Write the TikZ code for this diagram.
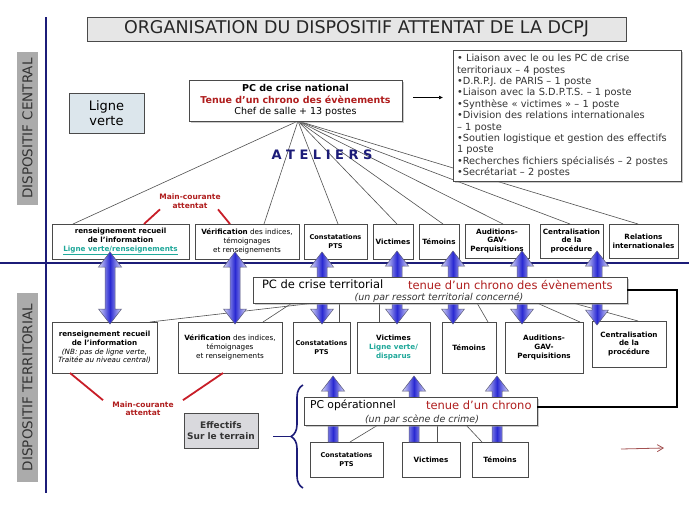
\documentclass[tikz,border=0pt]{standalone}
\usepackage{fontspec}
\setmainfont{DejaVu Sans}
\usetikzlibrary{arrows.meta,decorations.pathreplacing,shadows,backgrounds}
\definecolor{navy}{HTML}{1C1C78}
\definecolor{boxline}{HTML}{4A4A4A}
\definecolor{linegray}{HTML}{505050}
\definecolor{darkred}{HTML}{B01E1E}
\definecolor{redl}{HTML}{C81E28}
\definecolor{tealc}{HTML}{1FA89A}
\definecolor{sidegray}{HTML}{ABABAB}
\definecolor{txtgray}{HTML}{333333}
\definecolor{titlefill}{HTML}{E6E6E6}
\definecolor{lvfill}{HTML}{DCE6EC}
\definecolor{effill}{HTML}{D9D9DD}
\definecolor{arrowlight}{HTML}{D8D8F8}
\definecolor{arrowdark}{HTML}{2A2AD2}
\definecolor{arrowedge}{HTML}{5A5A7A}
\definecolor{brownred}{HTML}{A35252}
\newcommand{\bx}{\fontsize{7.2}{8.8}\selectfont}
\newcommand{\bxs}{\fontsize{6.6}{8.8}\selectfont}
\newcommand{\bigdbl}[3]{\path[bigarrow] (#1,#2) -- ++(11.5,15) -- ++(-6.5,0) -- ({#1+5},{#3-15}) -- ++(6.5,0) -- (#1,#3) -- ++(-11.5,-15) -- ++(6.5,0) -- ({#1-5},{#2+15}) -- ++(-6.5,0) -- cycle;}
\newcommand{\bigup}[3]{\path[bigarrow] (#1,#2) -- ++(11.5,15) -- ++(-6.5,0) -- ({#1+5},#3) -- ({#1-5},#3) -- ({#1-5},{#2+15}) -- ++(-6.5,0) -- cycle;}
\tikzset{
  box/.style={draw=boxline, fill=white, line width=0.8pt, align=center, inner sep=1pt, outer sep=0pt, font=\bx\bfseries},
  shadowed/.style={drop shadow={shadow xshift=1.5pt,shadow yshift=-1.5pt,fill=black!40,opacity=0.5}},
  conn/.style={draw=linegray, line width=0.6pt},
  redline/.style={draw=redl, line width=1.8pt},
  navyline/.style={draw=navy, line width=2.2pt},
  sidebox/.style={fill=sidegray, draw=none, text=txtgray, inner sep=0pt, outer sep=0pt, font=\fontsize{13.5}{14}\selectfont},
  mc/.style={text=darkred, align=center, inner sep=1pt, font=\fontsize{7.5}{8.5}\selectfont\bfseries},
  bigarrow/.style={draw=arrowedge, line width=0.5pt, left color=arrowlight, right color=arrowlight, middle color=arrowdark},
  plain/.style={inner sep=0pt, outer sep=0pt}
}
\begin{document}
\begin{tikzpicture}[x=1pt, y=-1pt]
\useasboundingbox (0,0) rectangle (689,517);

% title and side labels
\node[draw=boxline, fill=titlefill, line width=0.8pt, minimum width=539, minimum height=24, inner sep=0pt, text=black!85, font=\fontsize{17.5}{19}\selectfont] (title) at (356.5,29) {ORGANISATION DU DISPOSITIF ATTENTAT DE LA DCPJ};
\node[sidebox, rotate=90, minimum width=153, minimum height=21] (sc) at (27.5,128.5) {DISPOSITIF CENTRAL};
\node[sidebox, rotate=90, minimum width=189, minimum height=21] (st) at (27.5,387.5) {DISPOSITIF TERRITORIAL};

\coordinate (vtop) at (46,17);
\coordinate (vbot) at (46,493);
\coordinate (hl) at (0,263);
\coordinate (hr) at (689,263);
\draw[navyline] (vtop) -- (vbot);
\draw[navyline] (hl) -- (hr);

% central level
\node[draw=boxline, fill=lvfill, line width=0.8pt, minimum width=75, minimum height=40, align=center, inner sep=0pt, font=\fontsize{13}{14.5}\selectfont] (lv) at (106.5,113) {Ligne\\verte};
\node[box, shadowed, minimum width=213, minimum height=41, font=\fontsize{9.5}{11.8}\selectfont] (pcn) at (295.5,100.5) {\textbf{PC de crise national}\\\textcolor{darkred}{\textbf{Tenue d’un chrono des évènements}}\\Chef de salle + 13 postes};
\node[box, shadowed, minimum width=228, minimum height=128, text width=220, align=left, inner sep=4pt, text=txtgray, font=\fontsize{9.8}{11.4}\selectfont] (list) at (567,116) {• Liaison avec le ou les PC de crise\\territoriaux – 4 postes\\•D.R.P.J. de PARIS – 1 poste\\•Liaison avec la S.D.P.T.S. – 1 poste\\•Synthèse « victimes » – 1 poste\\•Division des relations internationales\\– 1 poste\\•Soutien logistique et gestion des effectifs\\1 poste\\•Recherches fichiers spécialisés – 2 postes\\•Secrétariat – 2 postes};
\coordinate (ar1) at (413,97.5);
\coordinate (ar2) at (443,97.5);
\draw[line width=0.7pt, -{Latex[length=4pt,width=4pt]}] (ar1) -- (ar2);

\node[text=navy, font=\fontsize{13}{13}\selectfont\bfseries] (atel) at (322,155) {A T E L I E R S};

\node[box, minimum width=137, minimum height=35] (c1) at (120.5,241.5) {renseignement recueil\\de l’information\\\textcolor{tealc}{\underline{Ligne verte/renseignements}}};
\node[box, minimum width=104, minimum height=35, font=\bx] (c2) at (247,241.5) {\textbf{Vérification} des indices,\\témoignages\\et renseignements};
\node[box, minimum width=63, minimum height=35, font=\bxs\bfseries] (c3) at (335.5,241.5) {Constatations\\PTS};
\node[box, minimum width=40, minimum height=35] (c4) at (393,241.5) {Victimes};
\node[box, minimum width=40, minimum height=35] (c5) at (439,241.5) {Témoins};
\node[box, minimum width=64, minimum height=34] (c6) at (497,241) {Auditions-\\GAV-\\Perquisitions};
\node[box, minimum width=63, minimum height=34] (c7) at (571.5,241) {Centralisation\\de la\\procédure};
\node[box, minimum width=69, minimum height=34] (c8) at (643.5,241) {Relations\\internationales};

\node[mc] (mc1) at (190,201) {Main-courante\\attentat};
\draw[redline] ([xshift=-30pt]mc1.south) -- ([xshift=23.5pt]c1.north);
\draw[redline] ([xshift=28pt]mc1.south) -- ([xshift=-17pt]c2.north);

% territorial level
\node[box, minimum width=105, minimum height=51] (t1) at (104.5,347.5) {renseignement recueil\\de l’information\\\textit{\mdseries (NB: pas de ligne verte,}\\\textit{\mdseries Traitée au niveau central)}};
\node[box, minimum width=104, minimum height=51, font=\bx] (t2) at (230,347.5) {\textbf{Vérification} des indices,\\témoignages\\et renseignements};
\node[box, minimum width=57, minimum height=51, inner sep=0pt, font=\bxs\bfseries] (t3) at (321.5,347.5) {Constatations\\PTS};
\node[box, minimum width=73, minimum height=51] (t4) at (393.5,347.5) {Victimes\\\textcolor{tealc}{Ligne verte/}\\\textcolor{tealc}{disparus}};
\node[box, minimum width=54, minimum height=51] (t5) at (469,347.5) {Témoins};
\node[box, minimum width=78, minimum height=51] (t6) at (544,347.5) {Auditions-\\GAV-\\Perquisitions};
\node[box, minimum width=74, minimum height=46] (t7) at (629,344) {Centralisation\\de la\\procédure};

\node[mc] (mc2) at (143,408.5) {Main-courante\\attentat};
\draw[redline] ([xshift=-34.5pt]t1.south) -- ([xshift=-40pt]mc2.north);
\draw[redline] ([xshift=-7pt]t2.south) -- ([xshift=40pt]mc2.north);

\node[draw=boxline, fill=effill, line width=0.8pt, minimum width=74, minimum height=35, align=center, inner sep=0pt, text=txtgray, font=\fontsize{9}{11.5}\selectfont\bfseries] (ef) at (221,430.5) {Effectifs\\Sur le terrain};

\coordinate (brB) at (303,488);
\coordinate (brT) at (303,385);
\coordinate (brtip) at (291,436.5);
\coordinate (brend) at (273,436.5);
\draw[navy, line width=1.6pt, decorate, decoration={brace, amplitude=12pt}] (brB) -- (brT);
\draw[navy, line width=1.6pt] (brtip) -- (brend);

\node[box, minimum width=73, minimum height=35, font=\bxs\bfseries] (b1) at (346.5,459.5) {Constatations\\PTS};
\node[box, minimum width=58, minimum height=35] (b2) at (431,459.5) {Victimes};
\node[box, minimum width=56, minimum height=35] (b3) at (500,459.5) {Témoins};

% big blue arrows (under the two PC boxes)
\bigdbl{110}{252}{324}
\bigdbl{235}{252}{324}
\bigdbl{322}{252}{324}
\bigdbl{397}{251}{324}
\bigdbl{453}{251}{324}
\bigdbl{522}{251}{324}
\bigdbl{597}{251}{325}
\bigup{333}{376}{442}
\bigup{414}{376}{442}
\bigup{497}{376}{442}

% PC boxes on top of the arrows
\node[box, shadowed, minimum width=374, minimum height=26] (pct) at (440,290) {};
\node[plain, anchor=west, font=\fontsize{11.5}{12}\selectfont] (pctA) at (262,284.5) {PC de crise territorial};
\node[plain, anchor=west, text=darkred, font=\fontsize{11.5}{12}\selectfont] (pctB) at (408,284.5) {tenue d’un chrono des évènements};
\node[plain, text=txtgray, font=\fontsize{9.5}{10}\selectfont\itshape] (pctC) at (439,297.5) {(un par ressort territorial concerné)};

\node[box, shadowed, minimum width=233, minimum height=28] (pco) at (420.5,411) {};
\node[plain, anchor=west, font=\fontsize{10.8}{12}\selectfont] (pcoA) at (310,405) {PC opérationnel};
\node[plain, anchor=west, text=darkred, font=\fontsize{11.5}{12}\selectfont] (pcoB) at (426,405) {tenue d’un chrono};
\node[plain, text=txtgray, font=\fontsize{9.5}{10}\selectfont\itshape] (pcoC) at (422,419.5) {(un par scène de crime)};

% thin connectors behind the boxes
\begin{scope}[on background layer]
\fill[white] (0,0) rectangle (689,517);
\draw[conn] ([xshift=2.5pt]pcn.south) -- ([xshift=-47.5pt]c1.north);
\draw[conn] ([xshift=2.5pt]pcn.south) -- ([xshift=17pt]c2.north);
\draw[conn] ([xshift=2.5pt]pcn.south) -- ([xshift=2.5pt]c3.north);
\draw[conn] ([xshift=2.5pt]pcn.south) -- ([xshift=4pt]c4.north);
\draw[conn] ([xshift=2.5pt]pcn.south) -- ([xshift=4pt]c5.north);
\draw[conn] ([xshift=2.5pt]pcn.south) -- ([xshift=6pt]c6.north);
\draw[conn] ([xshift=2.5pt]pcn.south) -- ([xshift=-1.5pt]c7.north);
\draw[conn] ([xshift=2.5pt]pcn.south) -- ([xshift=-5.5pt]c8.north);
\draw[conn] ([xshift=-125pt]pct.south) -- ([xshift=45.5pt]t1.north);
\draw[conn] ([xshift=-148pt]pct.south) -- ([xshift=33pt]t2.north);
\draw[conn] ([xshift=-101pt]pct.south) -- ([xshift=17.5pt]t3.north);
\draw[conn] ([xshift=-61pt]pct.south) -- ([xshift=-14.5pt]t4.north);
\draw[conn] ([xshift=37pt]pct.south) -- ([xshift=19pt]t5.north);
\draw[conn] ([xshift=97pt]pct.south) -- ([xshift=36pt]t6.north);
\draw[conn] ([xshift=133pt]pct.south) -- ([xshift=9pt]t7.north);
\draw[conn] ([xshift=-42.5pt]pco.south) -- ([xshift=3.5pt]b1.north);
\draw[conn] ([xshift=16.5pt]pco.south) -- ([xshift=6pt]b2.north);
\draw[conn] ([xshift=45.5pt]pco.south) -- ([xshift=-18pt]b3.north);
\end{scope}

% black link territorial -> operationnel
\coordinate (bend) at (677,290);
\draw[black, line width=1.8pt] (pct.east) -- (bend) |- ([yshift=4pt]pco.east);

% small red arrow
\coordinate (ra1) at (621,449);
\coordinate (ra2) at (664,448);
\draw[brownred, line width=0.8pt, -{Straight Barb[length=6pt,width=7pt]}] (ra1) -- (ra2);
\end{tikzpicture}
\end{document}
